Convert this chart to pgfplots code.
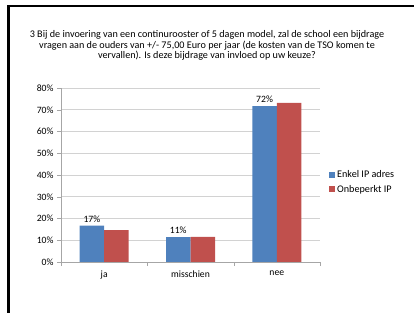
\documentclass[border=0pt]{standalone}
\usepackage{fontspec}
\setmainfont{Carlito}
\usepackage{pgfplots}
\pgfplotsset{compat=1.18}
\definecolor{cblue}{HTML}{4F81BD}
\definecolor{cred}{HTML}{C0504D}
\begin{document}
\begin{tikzpicture}[x=1bp,y=1bp]
\useasboundingbox (0,0) rectangle (414,313);
\draw[line width=2bp] (8.5,-1) -- (8.5,307) -- (415,307);
\node[align=center, font=\fontsize{10.2}{10.3}\selectfont] at (207,267.5) {3 Bij de invoering van een continurooster of 5 dagen model, zal de school een bijdrage\\vragen aan de ouders van +/- 75,00 Euro per jaar (de kosten van de TSO komen te\\vervallen). Is deze bijdrage van invloed op uw keuze?};
\begin{axis}[
  at={(61bp,51bp)}, anchor=south west,
  scale only axis, width=259bp, height=174bp,
  /pgf/number format/assume math mode=true,
  ybar=0pt, bar width=24.5bp,
  xmin=-0.5, xmax=2.5, ymin=0, ymax=80,
  xtick={0,1,2}, xticklabels={ja,misschien,nee},
  minor xtick={-0.5,0.5,1.5,2.5},
  major x tick style={draw=none},
  minor x tick style={draw=gray!70},
  minor tick length=4bp,
  ytick={0,10,...,80},
  yticklabels={0\%,10\%,20\%,30\%,40\%,50\%,60\%,70\%,80\%},
  major y tick style={draw=gray!70},
  major tick length=4bp,
  tick align=outside,
  ymajorgrids, grid style={gray!35, line width=0.6pt},
  axis x line*=bottom, axis y line*=left,
  axis line style={gray!70, line width=0.6pt},
  tick label style={font=\fontsize{9.7}{10}\selectfont, text=black},
  xticklabel style={yshift=-1bp},
  legend style={at={(1,0.46)}, anchor=west, xshift=6bp, draw=none, fill=none,
    font=\fontsize{10.2}{10.5}\selectfont, row sep=2bp, cells={anchor=west},
    /tikz/every even column/.append style={column sep=1bp}},
  legend image code/.code={\fill[#1] (0bp,-3bp) rectangle (6bp,3bp);},
  every node near coord/.append style={font=\fontsize{9.7}{10}\selectfont, text=black},
]
\addplot[fill=cblue, draw=none,
  nodes near coords={\pgfmathprintnumber[fixed,precision=0]{\pgfplotspointmeta}\%}]
  coordinates {(0,16.7) (1,11.4) (2,71.7)};
\addplot[fill=cred, draw=none] coordinates {(0,14.7) (1,11.6) (2,73.2)};
\legend{Enkel IP adres, Onbeperkt IP}
\end{axis}
\end{tikzpicture}
\end{document}
